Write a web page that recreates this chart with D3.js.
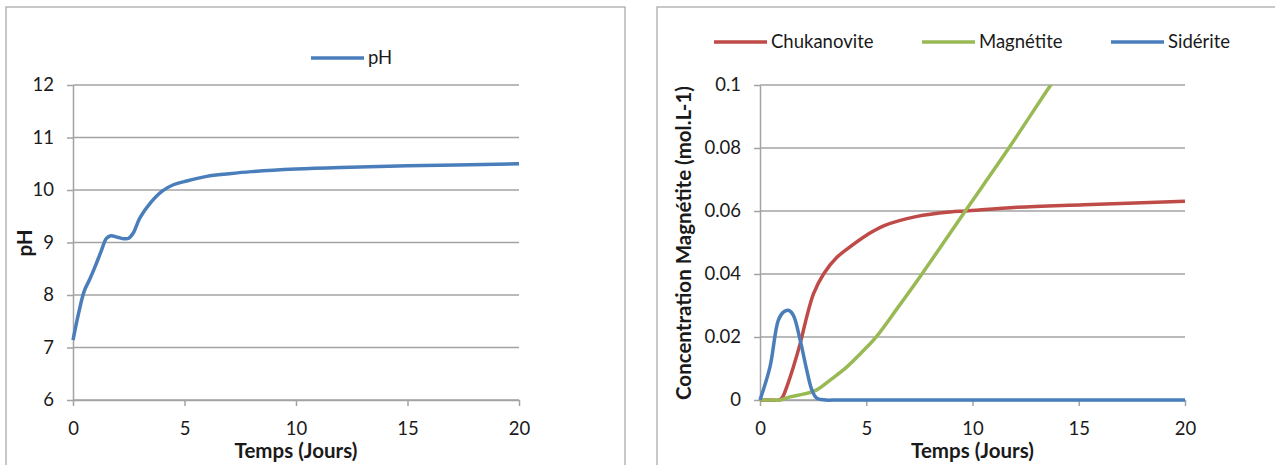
<!DOCTYPE html>
<html><head><meta charset="utf-8">
<script src="https://cdn.jsdelivr.net/npm/d3@7"></script>
<style>
html,body{margin:0;padding:0;background:#fff;}
svg{display:block;font-family:Lato,"Open Sans",sans-serif;}
</style></head>
<body>
<svg id="chart" width="1275" height="465"></svg>
<script>
// ---- Data ----
const timeTicks = [0, 5, 10, 15, 20];
const phTicks = [6, 7, 8, 9, 10, 11, 12];
const concTicks = [0, 0.02, 0.04, 0.06, 0.08, 0.1];

const phTime  = [0, 0.25, 0.5, 0.75, 1, 1.25, 1.5, 1.7, 2, 2.3, 2.5, 2.7, 3, 3.5, 4, 4.5, 5, 6, 7, 8, 10, 12, 15, 20];
const phValue = [7.14, 7.65, 8.07, 8.3, 8.55, 8.82, 9.08, 9.13, 9.1, 9.07, 9.08, 9.18, 9.47, 9.77, 9.98, 10.1, 10.16, 10.26, 10.31, 10.35, 10.4, 10.43, 10.46, 10.5];

const sidTime  = [0, 0.47, 0.86, 1.1, 1.34, 1.57, 1.89, 2.2, 2.44, 2.67, 3.1, 3.6, 5, 10, 15, 20];
const sidValue = [0, 0.0105, 0.0253, 0.0279, 0.0285, 0.0269, 0.019, 0.0095, 0.0032, 0.0006, 0, 0, 0, 0, 0, 0];

const chuTime  = [0, 0.5, 0.9, 1.05, 1.26, 1.57, 1.89, 2.2, 2.52, 3.0, 3.62, 4.25, 5.03, 5.82, 7.39, 8.96, 9.67, 12.1, 15.25, 20];
const chuValue = [0, 0, 0, 0.0008, 0.0042, 0.0105, 0.0179, 0.0264, 0.0338, 0.0401, 0.0453, 0.0487, 0.0524, 0.0553, 0.0583, 0.0597, 0.06, 0.0612, 0.062, 0.0631];

const magTime  = [0, 0.5, 0.94, 1.42, 2.2, 2.67, 3.3, 4.09, 5.03, 5.5, 6.45, 7.63, 9.67, 11.71, 13.68, 14.2];
const magValue = [0, 0, 0, 0.001, 0.0021, 0.0032, 0.0063, 0.0105, 0.0168, 0.0203, 0.029, 0.0401, 0.0601, 0.08, 0.1, 0.105];

const leftLegend = ["pH"];
const rightLegend = ["Chukanovite", "Magnétite", "Sidérite"];

// ---- Styles ----
const C_BLUE = "#4a7ebb", C_RED = "#be4b48", C_GREEN = "#98b954";
const GRID = "#a3a3a3", BORDER = "#ababab";
const FS = 18.5, TFS = 20.5;

const svg = d3.select("#chart");

function panel(opts){
  const g = svg.append("g");
  g.append("rect").attr("x", opts.bx).attr("y", 7).attr("width", opts.bw).attr("height", 470)
    .attr("fill", "#fff").attr("stroke", BORDER).attr("stroke-width", 1.3);
  const x = d3.scaleLinear().domain([0, 20]).range([opts.x0, opts.x1]);
  const y = d3.scaleLinear().domain(opts.ydom).range([400, 85]);
  g.append("g").selectAll("line").data(opts.yticks).join("line")
    .attr("x1", x(0)).attr("x2", x(20)).attr("y1", d => y(d)).attr("y2", d => y(d))
    .attr("stroke", GRID).attr("stroke-width", 1.5);
  const ya = g.append("g").attr("transform", `translate(${x(0)},0)`)
    .call(d3.axisLeft(y).tickValues(opts.yticks).tickSize(6).tickSizeOuter(0).tickPadding(13).tickFormat(opts.yfmt));
  const xa = g.append("g").attr("transform", `translate(0,${y(opts.ydom[0])})`)
    .call(d3.axisBottom(x).tickValues(timeTicks).tickSize(6).tickSizeOuter(0).tickPadding(16).tickFormat(d3.format("d")));
  [ya, xa].forEach(a => {
    a.select(".domain").attr("stroke", GRID).attr("stroke-width", 1.5);
    a.selectAll(".tick line").attr("stroke", GRID).attr("stroke-width", 1.5);
    a.selectAll("text").attr("fill", "#1a1a1a").style("font-size", FS + "px").style("font-family", "Lato");
  });
  g.append("text").attr("x", (opts.x0 + opts.x1) / 2).attr("y", 458).attr("text-anchor", "middle")
    .style("font-size", TFS + "px").style("font-weight", "bold").attr("fill", "#1a1a1a").text("Temps (Jours)");
  g.append("text").attr("transform", `translate(${opts.ytx},${243}) rotate(-90)`).attr("text-anchor", "middle")
    .attr("dy", "0.35em")
    .style("font-size", TFS + "px").style("font-weight", "bold").attr("fill", "#1a1a1a").text(opts.ytitle);
  const cid = "clip" + opts.bx;
  svg.append("clipPath").attr("id", cid).append("rect")
    .attr("x", x(0) - 3).attr("y", 85).attr("width", x(20) - x(0) + 6).attr("height", 320);
  const line = d3.line().curve(d3.curveCatmullRom.alpha(0.5)).x(d => x(d[0])).y(d => y(d[1]));
  const lines = g.append("g").attr("clip-path", `url(#${cid})`);
  opts.series.forEach(s => {
    lines.append("path").attr("d", line(d3.zip(s.t, s.v))).attr("fill", "none")
      .attr("stroke", s.color).attr("stroke-width", 3.5).attr("stroke-linejoin", "round");
  });
  opts.legend.forEach((name, i) => {
    const lx = opts.legX[i];
    g.append("line").attr("x1", lx).attr("x2", lx + 53).attr("y1", opts.legY).attr("y2", opts.legY)
      .attr("stroke", opts.series[i].color).attr("stroke-width", 3.5);
    g.append("text").attr("x", lx + 57).attr("y", opts.legY).attr("dy", "0.35em")
      .style("font-size", FS + "px").attr("fill", "#1a1a1a").text(name);
  });
}

panel({
  bx: 6, bw: 619, x0: 73, x1: 519, ydom: [6, 12], yticks: phTicks, yfmt: d3.format("d"),
  ytx: 25, ytitle: "pH",
  series: [{t: phTime, v: phValue, color: C_BLUE}],
  legend: leftLegend, legX: [311], legY: 58
});

panel({
  bx: 657, bw: 640, x0: 760, x1: 1185, ydom: [0, 0.1], yticks: concTicks, yfmt: d => d === 0 ? "0" : String(+d.toFixed(2)),
  ytx: 684, ytitle: "Concentration Magnétite (mol.L-1)",
  series: [{t: chuTime, v: chuValue, color: C_RED}, {t: magTime, v: magValue, color: C_GREEN}, {t: sidTime, v: sidValue, color: C_BLUE}],
  legend: rightLegend, legX: [714, 922, 1111], legY: 42
});
</script>
</body></html>
